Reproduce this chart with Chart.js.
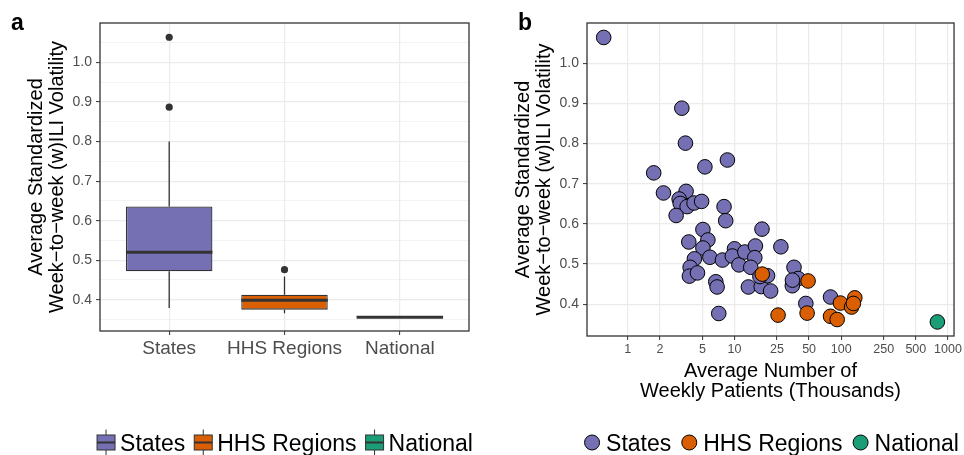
<!DOCTYPE html>
<html>
<head>
<meta charset="utf-8">
<title>ILI volatility</title>
<script src="https://cdn.jsdelivr.net/npm/chart.js@4.4.0/dist/chart.umd.min.js"></script>
<style>
  html, body { margin: 0; padding: 0; background: #fff; }
  #wrap { position: relative; width: 964px; height: 455px; overflow: hidden; }
  canvas { position: absolute; top: 0; }
  #boxChart { left: 0; }
  #scatterChart { left: 482px; }
</style>
</head>
<body>
<div id="wrap">
  <canvas id="boxChart" width="482" height="455"></canvas>
  <canvas id="scatterChart" width="482" height="455"></canvas>
</div>
<script>
// groups + colours (Dark2)
const groups = ['States', 'HHS Regions', 'National'];
const groupColors = ['#7570b3', '#d95f02', '#1b9e77'];

// panel a: box plot summaries
const whiskerLow = [0.379, 0.366, 0.356];
const q1 = [0.472, 0.375, 0.356];
const median = [0.520, 0.399, 0.356];
const q3 = [0.636, 0.413, 0.356];
const whiskerHigh = [0.800, 0.459, 0.356];
const outlierGroup = [1, 1, 2];
const outlierValue = [1.064, 0.887, 0.476];

// panel b: average weekly patients (thousands) vs volatility
const statesPatients = [0.595, 3.21, 3.47, 5.28, 8.58, 1.75, 2.16, 3.52, 3.03, 3.10,
  3.60, 4.18, 4.92, 2.84, 7.98, 8.27, 5.06, 18.1, 3.73, 5.63,
  5.06, 5.88, 4.21, 3.84, 3.78, 4.50, 7.71, 10.0, 9.54, 11.0,
  12.5, 15.7, 15.5, 14.2, 6.68, 6.87, 7.12, 13.5, 17.8, 21.8,
  27.2, 20.4, 17.3, 36.1, 39.5, 34.8, 34.9, 46.6, 79.4];
const statesVolatility = [1.064, 0.888, 0.801, 0.742, 0.759, 0.727, 0.677, 0.681, 0.662, 0.651,
  0.643, 0.652, 0.656, 0.621, 0.643, 0.608, 0.586, 0.587, 0.555, 0.560,
  0.540, 0.517, 0.513, 0.492, 0.470, 0.478, 0.510, 0.538, 0.520, 0.498,
  0.530, 0.545, 0.516, 0.492, 0.456, 0.443, 0.377, 0.443, 0.444, 0.433,
  0.543, 0.471, 0.469, 0.492, 0.464, 0.446, 0.460, 0.402, 0.418];
const hhsPatients = [18.2, 25.6, 48.9, 47.9, 98.3, 79.4, 91.6, 134, 125, 130];
const hhsVolatility = [0.475, 0.373, 0.458, 0.378, 0.403, 0.370, 0.362, 0.416, 0.393, 0.402];
const nationalPatients = [796];
const nationalVolatility = [0.356];

const logTicks = [1, 2, 5, 10, 25, 50, 100, 250, 500, 1000];
const majorTicks = [0.4, 0.5, 0.6, 0.7, 0.8, 0.9, 1.0];
const minorTicks = [0.35, 0.45, 0.55, 0.65, 0.75, 0.85, 0.95, 1.05];

const yMin = 0.321, yMax = 1.1;
const SANS = "'Liberation Sans', Arial, sans-serif";
Chart.defaults.font.family = SANS;
Chart.defaults.animation = false;

const isMinor = v => Math.abs(v * 10 - Math.round(v * 10)) > 1e-6;

// frame, panel letter, axis titles and legend
function decorations(letter, yTitle, xTitle, legendKey) {
  return {
    id: 'decorations',
    afterDraw(chart) {
      const { ctx, chartArea: a } = chart;
      ctx.save();
      ctx.strokeStyle = '#333333';
      ctx.lineWidth = 1.3;
      ctx.strokeRect(a.left, a.top, a.right - a.left, a.bottom - a.top);

      ctx.fillStyle = '#000';
      ctx.font = 'bold 23px ' + SANS;
      ctx.textAlign = 'left';
      ctx.textBaseline = 'alphabetic';
      ctx.fillText(letter.text, letter.x, 30);

      // y title, two rotated lines
      ctx.font = '20px ' + SANS;
      const yc = (a.top + a.bottom) / 2;
      yTitle.forEach((line, i) => {
        ctx.save();
        ctx.translate(a.left - 64 + i * 21, yc);
        ctx.rotate(-Math.PI / 2);
        ctx.textAlign = 'center';
        ctx.textBaseline = 'middle';
        ctx.fillText(line, 0, 0);
        ctx.restore();
      });

      // x title
      const xc = (a.left + a.right) / 2;
      ctx.textAlign = 'center';
      xTitle.forEach((line, i) => ctx.fillText(line, xc, a.bottom + 41 + i * 20));

      // legend
      ctx.font = '23px ' + SANS;
      const keyW = 20, keyGap = 4, itemGap = 8;
      const widths = groups.map(g => ctx.measureText(g).width);
      const total = widths.reduce((s, w) => s + w, 0) + groups.length * (keyW + keyGap) + (groups.length - 1) * itemGap;
      let x = xc - total / 2;
      ctx.textAlign = 'left';
      groups.forEach((g, i) => {
        legendKey(ctx, x, 442.5, groupColors[i]);
        x += keyW + keyGap;
        ctx.fillStyle = '#000';
        ctx.fillText(g, x, 451);
        x += widths[i] + itemGap;
      });
      ctx.restore();
    }
  };
}

function boxKey(ctx, x, cy, color) {
  ctx.strokeStyle = '#333333';
  ctx.lineWidth = 1;
  ctx.beginPath();
  ctx.moveTo(x + 10, cy - 13); ctx.lineTo(x + 10, cy + 13);
  ctx.stroke();
  ctx.fillStyle = color;
  ctx.fillRect(x + 1, cy - 7.5, 18, 15);
  ctx.strokeRect(x + 1, cy - 7.5, 18, 15);
  ctx.lineWidth = 2;
  ctx.beginPath();
  ctx.moveTo(x + 1, cy); ctx.lineTo(x + 19, cy);
  ctx.stroke();
}

function dotKey(ctx, x, cy, color) {
  ctx.fillStyle = color;
  ctx.strokeStyle = '#000';
  ctx.lineWidth = 1;
  ctx.beginPath();
  ctx.arc(x + 10, cy, 7.5, 0, Math.PI * 2);
  ctx.fill();
  ctx.stroke();
}

// whiskers and medians on top of the floating bars
const boxExtras = {
  id: 'boxExtras',
  afterDatasetsDraw(chart) {
    const { ctx } = chart;
    const y = chart.scales.y;
    const bars = chart.getDatasetMeta(0).data;
    ctx.save();
    ctx.strokeStyle = '#333333';
    bars.forEach((bar, i) => {
      const half = bar.width / 2;
      ctx.lineWidth = 1.3;
      ctx.beginPath();
      ctx.moveTo(bar.x, y.getPixelForValue(q3[i]));
      ctx.lineTo(bar.x, y.getPixelForValue(whiskerHigh[i]));
      ctx.moveTo(bar.x, y.getPixelForValue(q1[i]));
      ctx.lineTo(bar.x, y.getPixelForValue(whiskerLow[i]));
      ctx.stroke();
      ctx.lineWidth = 3;
      ctx.beginPath();
      ctx.moveTo(bar.x - half, y.getPixelForValue(median[i]));
      ctx.lineTo(bar.x + half, y.getPixelForValue(median[i]));
      ctx.stroke();
    });
    ctx.restore();
  }
};

// Panel a
new Chart(document.getElementById('boxChart'), {
  type: 'bar',
  data: {
    datasets: [
      {
        type: 'bar',
        data: groups.map((g, i) => ({ x: i + 1, y: [q1[i], q3[i]] })),
        backgroundColor: groupColors,
        borderColor: '#333333',
        borderWidth: 1.3,
        borderSkipped: false,
        barPercentage: 0.75,
        categoryPercentage: 1,
        order: 2
      },
      {
        type: 'scatter',
        data: outlierValue.map((v, i) => ({ x: outlierGroup[i], y: v })),
        backgroundColor: '#333333',
        borderWidth: 0,
        pointRadius: 3.6,
        order: 1
      }
    ]
  },
  options: {
    responsive: false,
    layout: { padding: { left: 0, top: 23, right: 13, bottom: 0 } },
    plugins: { legend: { display: false }, tooltip: { enabled: false } },
    scales: {
      x: {
        type: 'linear', min: 0.4, max: 3.6, offset: false,
        afterBuildTicks: s => { s.ticks = groups.map((g, i) => ({ value: i + 1 })); },
        afterFit: s => { s.height = 124; },
        border: { display: false },
        grid: { offset: false, color: '#ebebeb', lineWidth: 1.2, tickColor: '#333333', tickLength: 4, tickWidth: 1 },
        ticks: { callback: v => groups[Math.round(v) - 1], color: '#4d4d4d', font: { size: 19 }, padding: 2, maxRotation: 0 }
      },
      y: {
        min: yMin, max: yMax, beginAtZero: false,
        afterBuildTicks: s => {
          s.ticks = majorTicks.concat(minorTicks).sort((p, q) => p - q).map(v => ({ value: v }));
        },
        afterFit: s => { s.width = 100; },
        border: { display: false },
        grid: {
          color: '#ebebeb',
          lineWidth: c => (c.tick && isMinor(c.tick.value) ? 0.6 : 1.2),
          tickColor: c => (c.tick && isMinor(c.tick.value) ? 'rgba(0,0,0,0)' : '#333333'),
          tickLength: 4, tickWidth: 1
        },
        ticks: { callback: v => (isMinor(v) ? '' : v.toFixed(1)), color: '#4d4d4d', font: { size: 14 }, padding: 4 }
      }
    }
  },
  plugins: [boxExtras, decorations({ text: 'a', x: 11 },
    ['Average Standardized', 'Week\u2212to\u2212week (w)ILI Volatility'], [], boxKey)]
});

// Panel b
const pairs = (xs, ys) => xs.map((v, i) => ({ x: v, y: ys[i] }));
const pointStyle = (color, order) => ({
  backgroundColor: color, borderColor: '#000', borderWidth: 1, pointRadius: 7.3, order
});

new Chart(document.getElementById('scatterChart'), {
  type: 'scatter',
  data: {
    datasets: [
      Object.assign({ label: groups[0], data: pairs(statesPatients, statesVolatility) }, pointStyle(groupColors[0], 3)),
      Object.assign({ label: groups[1], data: pairs(hhsPatients, hhsVolatility) }, pointStyle(groupColors[1], 2)),
      Object.assign({ label: groups[2], data: pairs(nationalPatients, nationalVolatility) }, pointStyle(groupColors[2], 1))
    ]
  },
  options: {
    responsive: false,
    layout: { padding: { left: 0, top: 23, right: 7, bottom: 0 } },
    plugins: { legend: { display: false }, tooltip: { enabled: false } },
    scales: {
      x: {
        type: 'logarithmic', min: 0.415, max: 1140,
        afterBuildTicks: s => { s.ticks = logTicks.map(v => ({ value: v })); },
        afterFit: s => { s.height = 119; },
        border: { display: false },
        grid: { color: '#ebebeb', lineWidth: 1.2, tickColor: '#333333', tickLength: 4, tickWidth: 1 },
        ticks: { callback: v => String(v), color: '#4d4d4d', font: { size: 12.5 }, padding: 2, maxRotation: 0, autoSkip: false }
      },
      y: {
        min: yMin, max: yMax,
        afterBuildTicks: s => { s.ticks = majorTicks.map(v => ({ value: v })); },
        afterFit: s => { s.width = 105; },
        border: { display: false },
        grid: { color: '#ebebeb', lineWidth: 1.2, tickColor: '#333333', tickLength: 4, tickWidth: 1 },
        ticks: { callback: v => v.toFixed(1), color: '#4d4d4d', font: { size: 14 }, padding: 4 }
      }
    }
  },
  plugins: [decorations({ text: 'b', x: 36 },
    ['Average Standardized', 'Week\u2212to\u2212week (w)ILI Volatility'],
    ['Average Number of', 'Weekly Patients (Thousands)'], dotKey)]
});
</script>
</body>
</html>
